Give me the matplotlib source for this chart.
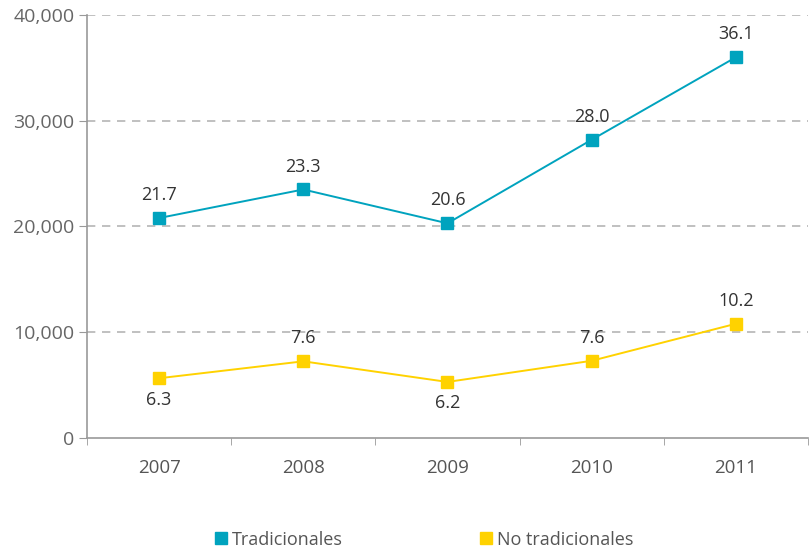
import matplotlib.pyplot as plt
from matplotlib.lines import Line2D
from matplotlib.ticker import FuncFormatter

plt.rcParams['font.family'] = ['Open Sans', 'DejaVu Sans']

years = ['2007', '2008', '2009', '2010', '2011']
tradicionales = [20800, 23500, 20300, 28200, 36000]
no_tradicionales = [5650, 7250, 5300, 7300, 10800]
labels_trad = ['21.7', '23.3', '20.6', '28.0', '36.1']
labels_no_trad = ['6.3', '7.6', '6.2', '7.6', '10.2']
# label position for the yellow series: above (1) or below (-1)
pos_no_trad = [-1, 1, -1, 1, 1]

teal = '#00A3BE'
yellow = '#FFD200'

fig = plt.figure(figsize=(8.1, 5.49), dpi=100)
ax = fig.add_axes([0.1074, 0.2022, 0.89, 0.7705])

x = range(len(years))
ax.plot(x, tradicionales, color=teal, lw=1.4, marker='s', ms=8, mec=teal)
ax.plot(x, no_tradicionales, color=yellow, lw=1.4, marker='s', ms=8, mec=yellow)

for i, v in enumerate(tradicionales):
    ax.annotate(labels_trad[i], (i, v), xytext=(0, 10), textcoords='offset points',
                ha='center', va='bottom', fontsize=13, color='#333333')
for i, v in enumerate(no_tradicionales):
    if pos_no_trad[i] > 0:
        ax.annotate(labels_no_trad[i], (i, v), xytext=(0, 10), textcoords='offset points',
                    ha='center', va='bottom', fontsize=13, color='#333333')
    else:
        ax.annotate(labels_no_trad[i], (i, v), xytext=(0, -9), textcoords='offset points',
                    ha='center', va='top', fontsize=13, color='#333333')

ax.set_xlim(-0.5, 4.5)
ax.set_ylim(0, 40000)
ax.set_yticks([0, 10000, 20000, 30000, 40000])
ax.yaxis.set_major_formatter(FuncFormatter(lambda v, p: f'{int(v):,}'))
ax.set_xticks(list(x))
ax.set_xticklabels(years)
ax.set_xticks([-0.5, 0.5, 1.5, 2.5, 3.5, 4.5], minor=True)
ax.tick_params(axis='x', which='major', length=0, pad=15, labelsize=13.5, labelcolor='#555555')
ax.tick_params(axis='x', which='minor', length=5, direction='out', color='#999999')
ax.tick_params(axis='y', length=6, color='#999999', labelsize=14, labelcolor='#666666', pad=3)

for y in [10000, 20000, 30000, 40000]:
    ax.axhline(y, color='#B5B5B5', lw=1.2, ls=(0, (5, 4)), zorder=0)

for s in ['top', 'right']:
    ax.spines[s].set_visible(False)
for s in ['left', 'bottom']:
    ax.spines[s].set_color('#999999')
    ax.spines[s].set_linewidth(1.2)

handles = [Line2D([], [], color=teal, marker='s', ls='', ms=8.5),
           Line2D([], [], color=yellow, marker='s', ls='', ms=8.5)]
fig.legend(handles, ['Tradicionales', 'No tradicionales'], loc='center',
           bbox_to_anchor=(0.5235, 0.017), ncol=2, frameon=False, fontsize=13,
           handlelength=0.7, handletextpad=0.25, columnspacing=7.6,
           labelcolor='#555555')

fig.savefig('out.png', dpi=100)
